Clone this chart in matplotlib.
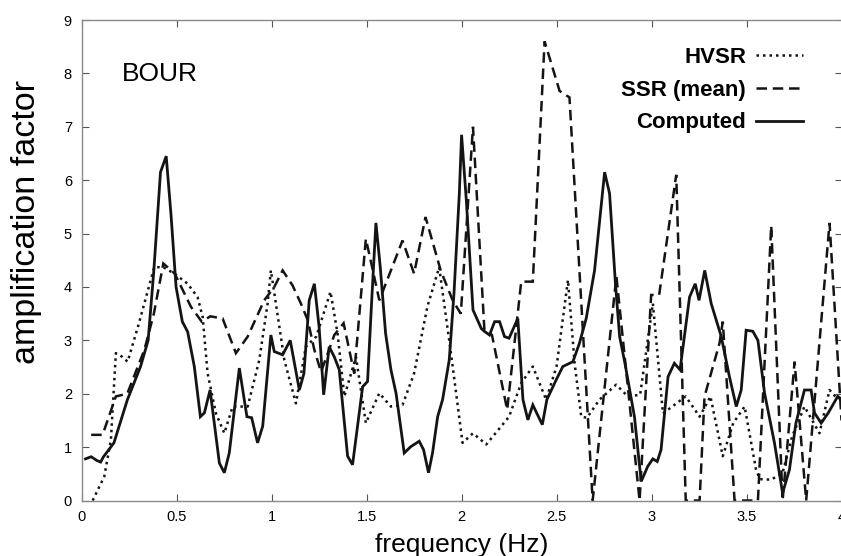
import matplotlib
matplotlib.use("Agg")
import matplotlib.pyplot as plt

# HVSR (dotted)
hvsr_freq = [0.058, 0.119, 0.154, 0.18, 0.21, 0.242, 0.30, 0.382, 0.43, 0.488, 0.558, 0.61,
             0.637, 0.663, 0.707, 0.751, 0.795, 0.874, 0.935, 0.979, 0.996, 1.02, 1.067,
             1.128, 1.18, 1.235, 1.31, 1.347, 1.383, 1.444, 1.47, 1.496, 1.567, 1.628,
             1.689, 1.75, 1.82, 1.882, 1.944, 2.005, 2.06, 2.13, 2.25, 2.314, 2.375, 2.445,
             2.50, 2.56, 2.595, 2.63, 2.66, 2.726, 2.814, 2.875, 2.94, 3.007, 3.06, 3.18,
             3.253, 3.296, 3.31, 3.375, 3.43, 3.49, 3.55, 3.57, 3.63, 3.69, 3.74, 3.805,
             3.884, 3.937, 3.98, 4.0]
hvsr_amp = [0.0, 0.45, 1.14, 2.76, 2.7, 2.6, 3.3, 4.37, 4.37, 4.25, 4.06, 3.81,
            3.44, 2.38, 1.63, 1.26, 1.76, 1.76, 2.63, 3.69, 4.31, 3.75, 2.63,
            1.82, 2.88, 3.07, 3.91, 3.13, 1.95, 2.69, 2.07, 1.45, 2.01, 1.76,
            1.79, 2.38, 3.63, 4.37, 2.76, 1.08, 1.26, 1.05, 1.57, 2.2, 2.51, 1.89,
            2.51, 4.13, 2.57, 1.57, 1.55, 1.89, 2.17, 1.95, 1.98, 3.69, 1.63, 1.95,
            1.57, 1.85, 1.95, 0.83, 1.45, 1.76, 0.58, 0.4, 0.39, 0.52, 1.2, 1.76,
            1.26, 2.07, 1.9, 1.95]

# SSR mean (dashed)
ssr_freq = [0.05, 0.11, 0.18, 0.24, 0.33, 0.38, 0.43, 0.49, 0.575, 0.632, 0.677, 0.742,
            0.812, 0.874, 0.961, 1.014, 1.058, 1.11, 1.154, 1.19, 1.225, 1.26, 1.29, 1.33,
            1.379, 1.435, 1.496, 1.515, 1.567, 1.689, 1.75, 1.81, 1.89, 1.953, 1.996, 2.06,
            2.12, 2.16, 2.24, 2.314, 2.375, 2.437, 2.516, 2.568, 2.69, 2.815, 2.937, 2.998,
            3.04, 3.13, 3.18, 3.253, 3.279, 3.358, 3.375, 3.437, 3.56, 3.63, 3.69, 3.753,
            3.814, 3.937, 4.0]
ssr_amp = [1.23, 1.23, 1.95, 2.0, 2.82, 3.5, 4.44, 4.25, 3.63, 3.35, 3.45, 3.41,
           2.76, 3.07, 3.75, 4.0, 4.31, 4.03, 3.69, 3.38, 2.82, 2.41, 2.7, 3.1,
           3.32, 2.38, 4.9, 4.6, 3.75, 4.87, 4.25, 5.31, 4.31, 3.75, 3.5, 7.0,
           3.2, 3.1, 1.7, 4.1, 4.1, 8.6, 7.67, 7.55, 0.0, 4.2, 0.0, 3.85,
           3.85, 6.1, 0.0, 0.0, 1.95, 2.95, 3.35, 0.0, 0.0, 5.15, 0.0, 2.6,
           0.0, 5.2, 1.5]

# Computed (solid)
comp_freq = [0.02, 0.05, 0.08, 0.10, 0.115, 0.17, 0.24, 0.31, 0.35, 0.38, 0.415, 0.445,
             0.47, 0.497, 0.53, 0.558, 0.593, 0.625, 0.646, 0.676, 0.725, 0.751, 0.777,
             0.83, 0.87, 0.895, 0.926, 0.953, 0.996, 1.014, 1.058, 1.098, 1.146, 1.17,
             1.198, 1.225, 1.25, 1.274, 1.303, 1.33, 1.356, 1.40, 1.426, 1.45, 1.479,
             1.505, 1.526, 1.549, 1.572, 1.60, 1.628, 1.655, 1.698, 1.733, 1.777, 1.80,
             1.826, 1.847, 1.874, 1.90, 1.935, 1.96, 1.988, 2.0, 2.025, 2.06, 2.104,
             2.12, 2.147, 2.174, 2.2, 2.226, 2.25, 2.296, 2.323, 2.349, 2.375, 2.425,
             2.449, 2.498, 2.533, 2.586, 2.62, 2.656, 2.70, 2.753, 2.779, 2.81, 2.832,
             2.86, 2.91, 2.937, 2.946, 2.98, 3.007, 3.03, 3.05, 3.087, 3.12, 3.15,
             3.20, 3.23, 3.25, 3.28, 3.314, 3.367, 3.41, 3.446, 3.472, 3.498, 3.533,
             3.56, 3.595, 3.647, 3.69, 3.726, 3.76, 3.805, 3.84, 3.858, 3.893, 3.93,
             3.98, 4.0]
comp_amp = [0.78, 0.82, 0.75, 0.72, 0.82, 1.08, 1.88, 2.51, 3.0, 4.31, 6.15, 6.45,
            5.37, 4.0, 3.35, 3.16, 2.51, 1.57, 1.64, 2.07, 0.70, 0.52, 0.89,
            2.48, 1.57, 1.55, 1.08, 1.39, 3.1, 2.79, 2.73, 3.0, 2.07, 2.38,
            3.75, 4.06, 3.25, 1.98, 2.88, 2.69, 2.45, 0.83, 0.67, 1.33, 2.13,
            2.23, 3.69, 5.2, 4.37, 3.13, 2.45, 2.01, 0.89, 1.01, 1.11, 0.95,
            0.52, 0.89, 1.57, 1.89, 2.63, 3.88, 5.74, 6.85, 5.62, 3.57, 3.22,
            3.17, 3.1, 3.35, 3.35, 3.07, 3.04, 3.41, 1.89, 1.51, 1.79, 1.42,
            1.89, 2.26, 2.51, 2.6, 2.94, 3.41, 4.31, 6.15, 5.75, 4.06, 3.07,
            2.57, 1.57, 0.64, 0.36, 0.64, 0.78, 0.73, 0.95, 2.32, 2.57, 2.45,
            3.81, 4.06, 3.75, 4.31, 3.69, 3.07, 2.32, 1.76, 2.07, 3.19, 3.17,
            3.0, 2.01, 1.08, 0.14, 0.58, 1.45, 2.07, 2.07, 1.64, 1.45, 1.64,
            1.95, 1.9]

x_ticks = [0, 0.5, 1, 1.5, 2, 2.5, 3, 3.5, 4]
x_tick_labels = ["0", "0.5", "1", "1.5", "2", "2.5", "3", "3.5", "4"]
y_ticks = list(range(10))

plt.rcParams['font.family'] = ['Liberation Sans', 'DejaVu Sans']

ink = '#141414'
frame = '#8a8a8a'

fig = plt.figure(figsize=(8.41, 5.56), dpi=100)
ax = fig.add_axes([0.0971, 0.0998, 0.9035, 0.8642])

ax.plot(hvsr_freq, hvsr_amp, color=ink, lw=1.8, linestyle=(0, (1, 1.6)),
        label='HVSR', clip_on=False)
ax.plot(ssr_freq, ssr_amp, color=ink, lw=1.8, linestyle=(0, (4.2, 2.3)),
        dash_joinstyle='miter', label='SSR (mean)', clip_on=False)
ax.plot(comp_freq, comp_amp, color=ink, lw=2.0, solid_joinstyle='miter',
        label='Computed', clip_on=False)

ax.set_xlim(0, 4)
ax.set_ylim(0, 9)
ax.set_xticks(x_ticks)
ax.set_xticklabels(x_tick_labels)
ax.set_yticks(y_ticks)
ax.tick_params(direction='in', length=5, width=0.8, color='#555555',
               top=True, right=True, labelsize=10.5, pad=7)
for sp in ax.spines.values():
    sp.set_color(frame)
    sp.set_linewidth(1.0)

ax.set_xlabel('frequency (Hz)', fontsize=19)
ax.xaxis.set_label_coords(0.5, -0.068)
ax.set_ylabel('amplification factor', fontsize=24.5)
ax.yaxis.label.set_va('center')
ax.yaxis.set_label_coords(-0.073, 0.58)

ax.text(0.0527, 0.873, 'BOUR', transform=ax.transAxes, fontsize=19,
        ha='left', va='baseline')

ax.legend(loc='upper right', bbox_to_anchor=(0.949, 0.944), frameon=False,
          markerfirst=False, handlelength=2.1, handletextpad=0.45,
          labelspacing=0.53, borderpad=0, borderaxespad=0,
          prop={'weight': 'bold', 'size': 16})

fig.savefig('out.png', dpi=100)
